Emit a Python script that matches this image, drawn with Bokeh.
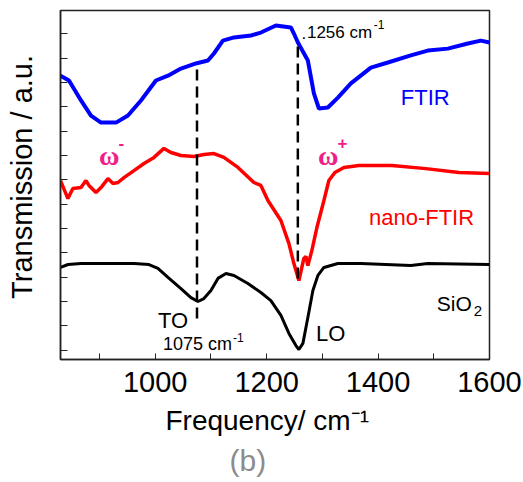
from bokeh.plotting import figure
from bokeh.models import Label, FixedTicker, Range1d, CustomJSTickFormatter, Title
from bokeh.embed import file_html
from bokeh.resources import INLINE

# ---------------- data ----------------
freq_ftir = [830, 845.2, 866.8, 884.7, 902.7, 929.6, 951.1, 974.4, 1001.3, 1022.9,
             1046.2, 1073.1, 1094.6, 1105.4, 1121.5, 1141.3, 1171.8, 1189.7, 1216.6,
             1243.5, 1248.9, 1256.1, 1274.0, 1284.8, 1293.8, 1309.9, 1327.9, 1351.2,
             1387.1, 1417.6, 1458.8, 1489.3, 1525.2, 1561.1, 1584.4, 1600]
trans_ftir = [11.28, 11.08, 10.26, 9.64, 9.35, 9.35, 9.64, 10.26, 11.08, 11.28,
              11.57, 11.78, 11.90, 12.19, 12.72, 12.85, 12.93, 13.05, 13.34,
              13.26, 13.01, 12.64, 11.90, 10.55, 9.93, 9.97, 10.38, 10.96,
              11.61, 11.82, 12.11, 12.31, 12.39, 12.60, 12.72, 12.64]

freq_nano = [830, 843.3, 852.2, 866.8, 875.7, 881.1, 893.7, 902.7, 915.2, 924.2,
             933.2, 943.9, 961.9, 979.8, 997.8, 1015.7, 1028.2, 1046.2, 1069.5,
             1087.4, 1105.4, 1123.3, 1148.5, 1177.1, 1189.7, 1202.3, 1225.6, 1240.0,
             1248.9, 1257.9, 1266.8, 1270.4, 1274.0, 1281.2, 1290.2, 1302.8, 1311.7,
             1322.5, 1338.7, 1365.6, 1424.8, 1485.8, 1545.0, 1600]
trans_nano = [6.97, 6.23, 6.64, 6.68, 6.97, 6.77, 6.48, 6.68, 7.05, 6.85,
              6.89, 7.09, 7.38, 7.67, 7.92, 8.29, 8.12, 8.00, 7.96,
              8.04, 8.08, 7.92, 7.51, 6.89, 6.77, 6.15, 5.33, 4.38,
              3.56, 2.86, 3.77, 3.85, 3.48, 4.10, 5.04, 6.15, 6.97,
              7.30, 7.51, 7.59, 7.59, 7.46, 7.30, 7.26]

freq_sio2 = [830, 843.5, 866.8, 902.7, 961.9, 988.8, 1004.9, 1022.9, 1046.2, 1064.1,
             1076.7, 1087.4, 1100.0, 1112.6, 1127.0, 1141.3, 1166.4, 1189.7, 1207.6,
             1225.6, 1240.0, 1252.5, 1257.9, 1265.1, 1274.0, 1283.0, 1292.0, 1302.8,
             1327.9, 1369.2, 1458.8, 1489.3, 1600]
trans_sio2 = [3.40, 3.52, 3.56, 3.56, 3.56, 3.52, 3.36, 2.99, 2.53, 2.16,
              2.00, 2.12, 2.45, 2.95, 3.15, 3.07, 2.74, 2.37, 2.04,
              1.43, 0.69, 0.19, 0.03, 0.28, 1.34, 2.45, 3.07, 3.40,
              3.56, 3.56, 3.48, 3.56, 3.52]

mode_freq = [1075, 1256]
mode_top = [11.70, 12.56]
mode_bottom = [1.30, 2.95]

x_ticks = [1000, 1200, 1400, 1600]
x_minor = [900, 1100, 1300, 1500]
y_ticks = list(range(14))

# ---------------- figure ----------------
FONT = "Liberation Sans"
NB = "\u00a0"
p = figure(width=523, height=482, output_backend="svg", toolbar_location=None,
           x_range=Range1d(830, 1600), y_range=Range1d(-0.382, 13.956),
           min_border_left=60, min_border_right=34, min_border_top=10,
           min_border_bottom=123)
p.grid.visible = False
p.outline_line_color = "#222222"
p.outline_line_width = 1.5
p.background_fill_color = "white"
p.border_fill_color = "white"

xa = p.xaxis[0]
xa.ticker = FixedTicker(ticks=x_ticks, minor_ticks=x_minor)
xa.major_tick_in = 6
xa.major_tick_out = 0
xa.minor_tick_in = 6
xa.minor_tick_out = 0
xa.axis_line_width = 1.5
xa.axis_line_color = "#222222"
xa.major_tick_line_color = "#222222"
xa.minor_tick_line_color = "#222222"
xa.major_label_text_font = FONT
xa.major_label_text_font_size = "29px"
xa.major_label_text_color = "black"
xa.major_label_standoff = 12
xa.axis_label = "Frequency/ cm\u207b\u00b9" + NB + NB
xa.axis_label_text_font = FONT
xa.axis_label_text_font_size = "28px"
xa.axis_label_text_font_style = "normal"
xa.axis_label_text_color = "black"
xa.axis_label_standoff = 10

ya = p.yaxis[0]
ya.ticker = FixedTicker(ticks=y_ticks, minor_ticks=[])
ya.formatter = CustomJSTickFormatter(code="return ''")
ya.major_label_text_font_size = "0px"
ya.major_label_standoff = 0
ya.major_tick_in = 7
ya.major_tick_out = 0
ya.minor_tick_in = 0
ya.minor_tick_out = 0
ya.axis_line_width = 1.5
ya.axis_line_color = "#222222"
ya.major_tick_line_color = "#222222"
ya.axis_label = NB * 2 + "Transmission / a.u."
ya.axis_label_text_font = FONT
ya.axis_label_text_font_size = "29px"
ya.axis_label_text_font_style = "normal"
ya.axis_label_text_color = "black"
ya.axis_label_standoff = 23

p.add_layout(Title(text="(b)", text_font=FONT, text_font_size="30px",
                   text_font_style="normal", text_color="#8c8c8c",
                   align="left", offset=169, standoff=6), "below")

# ---------------- curves ----------------
p.line(freq_ftir, trans_ftir, line_color="#0000ff", line_width=4)
p.line(freq_nano, trans_nano, line_color="#ff0000", line_width=3.5)
p.line(freq_sio2, trans_sio2, line_color="black", line_width=3)
p.segment(x0=mode_freq, y0=mode_bottom, x1=mode_freq, y1=mode_top,
          line_color="black", line_width=2.5, line_dash="11 6")


def lab(x, y, text, size, color="black", font=FONT, style="normal", align="left",
        baseline="alphabetic"):
    p.add_layout(Label(x=x, y=y, text=text, text_font=font, text_font_size=size,
                       text_color=color, text_font_style=style, text_align=align,
                       text_baseline=baseline))


# in-plot annotations
lab(1440.9, 10.38, "FTIR", "22px", "#0000ff")
lab(1383.6, 5.45, "nano-FTIR", "22px", "#ff0000")
lab(1505.5, 1.92, "SiO", "21px")
lab(1571.8, 1.63, "2", "15px")
lab(1288.4, 0.69, "LO", "22px")
lab(1004.9, 1.22, "TO", "22px")
lab(1013.9, 0.275, "1075 cm", "18px")
lab(1139.5, 0.52, "-1", "12px")
lab(1262.4, 13.05, ".", "17px")
lab(1272.3, 13.05, "1256 cm", "17px")
lab(1392.4, 13.38, "-1", "12px")

PINK = "#f0208a"
lab(899.1, 8.0, "\u03c9", "28px", PINK, "Liberation Serif", "bold")
lab(934.0, 8.53, "-", "17px", PINK, FONT, "bold")
lab(1292.0, 8.0, "\u03c9", "28px", PINK, "Liberation Serif", "bold")
lab(1327.0, 8.53, "+", "17px", PINK, FONT, "bold")

html = file_html(p, INLINE)
open("out.html", "w").write(html)
